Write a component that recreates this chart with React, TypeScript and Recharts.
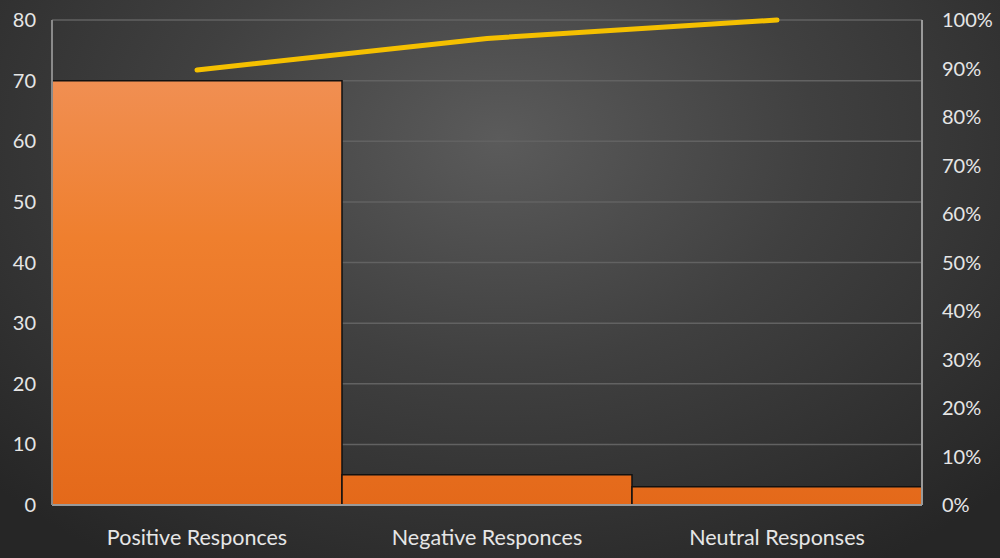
import { ComposedChart, Bar, Line, XAxis, YAxis, CartesianGrid } from 'recharts'

const categories = ['Positive Responces', 'Negative Responces', 'Neutral Responses']
const counts = [70, 5, 3]
const cumulative = [0.897, 0.962, 1.0]
const leftTicks = [0, 10, 20, 30, 40, 50, 60, 70, 80]
const rightTicks = [0, 0.1, 0.2, 0.3, 0.4, 0.5, 0.6, 0.7, 0.8, 0.9, 1.0]

const data = categories.map((name, i) => ({ name, count: counts[i], cum: cumulative[i] }))

const font = 'Lato, "Open Sans", sans-serif'
const tickStyle = { fill: '#e6e6e6', fontSize: 20, fontFamily: font }

export default function App() {
  return (
    <div
      style={{
        position: 'absolute',
        top: 0,
        left: 0,
        width: 1000,
        height: 558,
        background: 'radial-gradient(ellipse 70% 90% at 50% 25%, #5b5b5b 0%, #404040 45%, #262626 100%)',
      }}
    >
      <ComposedChart
        width={1000}
        height={558}
        data={data}
        margin={{ top: 20, right: 0, bottom: 0, left: 0 }}
        barCategoryGap={0}
        barGap={0}
      >
        <defs>
          <linearGradient id="barFill" gradientUnits="userSpaceOnUse" x1="0" y1="20" x2="0" y2="505">
            <stop offset="0%" stopColor="#f19560" />
            <stop offset="45%" stopColor="#ef7f2e" />
            <stop offset="100%" stopColor="#e4691a" />
          </linearGradient>
        </defs>
        <CartesianGrid vertical={false} stroke="#626262" strokeWidth={1.5} yAxisId="left" />
        <XAxis
          dataKey="name"
          height={53}
          tickLine={false}
          tickMargin={19}
          axisLine={{ stroke: '#9a9a9a', strokeWidth: 2 }}
          tick={{ ...tickStyle, fontSize: 21.5 }}
          interval={0}
        />
        <YAxis
          yAxisId="left"
          width={52}
          domain={[0, 80]}
          ticks={leftTicks}
          tickLine={false}
          tickMargin={10}
          axisLine={{ stroke: '#8a8a8a', strokeWidth: 2 }}
          tick={tickStyle}
        />
        <YAxis
          yAxisId="right"
          orientation="right"
          width={78}
          domain={[0, 1]}
          ticks={rightTicks}
          tickFormatter={(v: number) => `${Math.round(v * 100)}%`}
          tickLine={false}
          tickMargin={14}
          axisLine={{ stroke: '#9a9a9a', strokeWidth: 2 }}
          tick={tickStyle}
        />
        <Bar
          yAxisId="left"
          dataKey="count"
          fill="url(#barFill)"
          stroke="#111"
          strokeWidth={1.5}
          isAnimationActive={false}
        />
        <Line
          yAxisId="right"
          dataKey="cum"
          type="linear"
          stroke="#f5c000"
          strokeWidth={5}
          strokeLinecap="round"
          dot={false}
          activeDot={false}
          isAnimationActive={false}
        />
      </ComposedChart>
    </div>
  )
}
